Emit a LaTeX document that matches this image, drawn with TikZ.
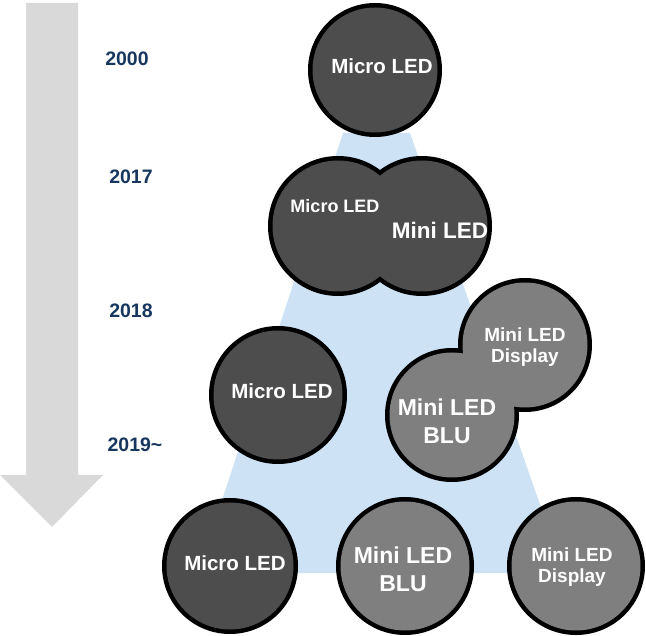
\documentclass[tikz,border=0pt]{standalone}
\usepackage{fontspec}
\setmainfont{Liberation Sans}
\definecolor{microgray}{HTML}{4D4D4D}
\definecolor{minigray}{HTML}{7F7F7F}
\definecolor{arrowgray}{HTML}{D9D9D9}
\definecolor{fanblue}{HTML}{CDE3F5}
\definecolor{yearblue}{HTML}{17375E}
\tikzset{
  year/.style={text=yearblue,inner sep=0,font=\fontsize{19.5}{19.5}\selectfont\bfseries},
  led/.style={text=white,align=center,inner sep=0,font=\fontsize{#1}{#1}\selectfont\bfseries},
  rim/.style={fill=black}
}
\begin{document}
\begin{tikzpicture}[x=1pt,y=-1pt]
                \useasboundingbox (0,0) rectangle (646,636);
                % time arrow and fan
                \fill[arrowgray] (26,3)--(78,3)--(78,475)--(103,475)--(52,527)--(0,475)--(26,475)--cycle;
                \fill[fanblue] (343,133)--(410,133)--(564,573)--(198,573)--cycle;
                \node[year] (y2000) at (127,59) {2000};
                \node[year] (y2017) at (131,177) {2017};
                \node[year] (y2018) at (131,311) {2018};
                \node[year] (y2019) at (135,445) {2019\textasciitilde};
                % 2000
                \coordinate (a1) at (375,70);
                \fill[rim] (a1) circle[radius=67pt];
                \fill[microgray] (a1) circle[radius=62.5pt];
                \node[led=20.5] (t1) at (382,66) {Micro LED};
                % 2017
                \coordinate (b1) at (338,226);
                \coordinate (b2) at (422,226);
                \fill[rim] (b1) circle[radius=70pt];
                \fill[rim] (b2) circle[radius=70pt];
                \fill[microgray] (b1) circle[radius=65.5pt];
                \fill[microgray] (b2) circle[radius=65.5pt];
                \node[led=18] (t2) at (335,206) {Micro LED};
                \node[led=22.5] (t3) at (440,230) {Mini LED};
                % 2018
                \coordinate (c1) at (278,395);
                \coordinate (c2) at (525,345);
                \coordinate (c3) at (452,415);
                \fill[rim] (c1) circle[radius=69pt];
                \fill[microgray] (c1) circle[radius=64.5pt];
                \fill[rim] (c2) circle[radius=67pt];
                \fill[rim] (c3) circle[radius=67pt];
                \fill[minigray] (c2) circle[radius=62.5pt];
                \fill[minigray] (c3) circle[radius=62.5pt];
                \node[led=20.5] (t4) at (282,391) {Micro LED};
                \node[led=19] (t5) at (525,347) {Mini LED\\[2.5pt]Display};
                \node[led=23] (t6) at (447,421) {Mini LED\\[5pt]BLU};
                % 2019~
                \coordinate (d1) at (230,566);
                \coordinate (d2) at (405,566);
                \coordinate (d3) at (576,566);
                \fill[rim] (d1) circle[radius=68pt];
                \fill[rim] (d2) circle[radius=69pt];
                \fill[rim] (d3) circle[radius=69pt];
                \fill[microgray] (d1) circle[radius=63.5pt];
                \fill[minigray] (d2) circle[radius=64.5pt];
                \fill[minigray] (d3) circle[radius=64.5pt];
                \node[led=20.5] (t7) at (235,563) {Micro LED};
                \node[led=23] (t8) at (403,569) {Mini LED\\[5pt]BLU};
                \node[led=19] (t9) at (572,567) {Mini LED\\[2.5pt]Display};
            \end{tikzpicture}
\end{document}
